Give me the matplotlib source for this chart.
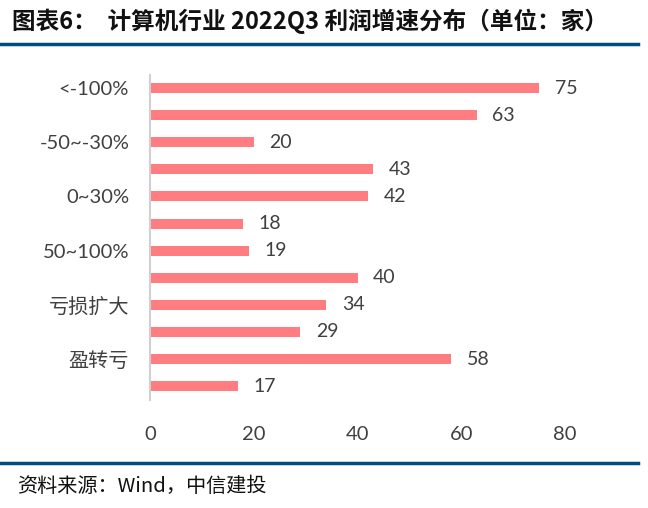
import matplotlib.pyplot as plt

plt.rcParams["font.family"] = ["Lato", "Noto Sans CJK SC", "DejaVu Sans"]

categories = ["<-100%", "-100%~-50%", "-50%~-30%", "-30%~0", "0~30%", "30%~50%",
              "50~100%", ">100%", "亏损扩大", "亏损缩小", "盈转亏", "扭亏"]
tick_labels = ["<-100%", "", "-50~-30%", "", "0~30%", "",
               "50~100%", "", "亏损扩大", "", "盈转亏", ""]
values = [75, 63, 20, 43, 42, 18, 19, 40, 34, 29, 58, 17]

fig = plt.figure(figsize=(6.48, 5.08), dpi=100)
ax = fig.add_axes([0.2315, 0.2132, 0.6405, 0.6401])

positions = list(range(len(categories)))
ax.barh(positions, values, height=0.37, color="#FF7C80")
for pos, val in zip(positions, values):
    ax.text(val + 3, pos, str(val), va="center", ha="left",
            fontsize=14, color="#404040")

ax.set_ylim(len(categories) - 0.5, -0.5)
ax.set_xlim(0, 80)
ax.set_xticks([0, 20, 40, 60, 80])
ax.set_yticks(positions)
ax.set_yticklabels(tick_labels)
ax.tick_params(axis="both", length=0, labelsize=14.5, labelcolor="#404040")
ax.tick_params(axis="x", pad=19)
ax.tick_params(axis="y", pad=15)
for lbl in ax.get_yticklabels():
    if any("\u4e00" <= ch <= "\u9fff" for ch in lbl.get_text()):
        lbl.set_fontfamily(["Noto Sans CJK SC"])
        lbl.set_fontweight("light")
        lbl.set_fontsize(14.5)

for side in ["top", "right", "bottom"]:
    ax.spines[side].set_visible(False)
ax.spines["left"].set_color("#D0D0D0")
ax.spines["left"].set_linewidth(1.5)

fig.text(0.018, 0.958, "图表6：  计算机行业 2022Q3 利润增速分布（单位：家）",
         fontsize=17, fontweight="bold", va="center", ha="left",
         family=["Noto Sans CJK SC", "DejaVu Sans"], color="#111111")
fig.add_artist(plt.Line2D([0, 0.985], [0.913, 0.913], color="#004C80", linewidth=2.5))
fig.add_artist(plt.Line2D([0, 0.985], [0.088, 0.088], color="#004C80", linewidth=2.5))
fig.text(0.027, 0.042, "资料来源：Wind，中信建投", fontsize=14.5, style="italic",
         va="center", ha="left", family=["Noto Sans CJK SC", "DejaVu Sans"],
         color="#111111")

fig.savefig("out.png", dpi=100)
